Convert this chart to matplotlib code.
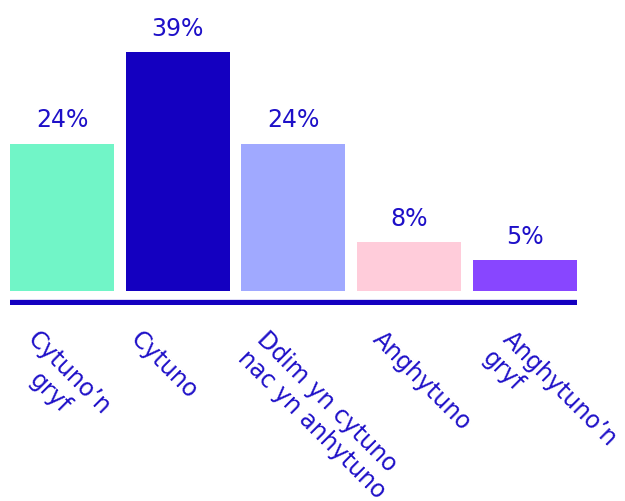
#Welsh agreement survey - bar chart of responses

import numpy as np
import matplotlib.pyplot as plt

categories = ["Cytuno’n\ngryf", "Cytuno", "Ddim yn cytuno\nnac yn anhytuno", "Anghytuno", "Anghytuno’n\ngryf"]
values = [24, 39, 24, 8, 5]
value_labels = ["24%", "39%", "24%", "8%", "5%"]
colors = ["#71F5C7", "#1400C0", "#A0A9FF", "#FFCCDA", "#8846FF"]

text_color = "#1E10C8"
plt.rcParams['font.family'] = ['DejaVu Sans']

fig = plt.figure(figsize=(6.25, 5.02), dpi=100)
ax = fig.add_axes([0.016, 0.3904, 0.907, 0.6096])

x = np.arange(len(values))
ax.bar(x, values, width=0.9, color=colors)

for xi, v, lab in zip(x, values, value_labels):
    ax.annotate(lab, (xi, v), xytext=(0, 9), textcoords='offset points',
                ha='center', va='bottom', fontsize=17, color=text_color)

# thick baseline sits a bit under the bars
ax.axhline(-1.8, xmin=0, xmax=1, color="#1400C0", linewidth=3.8)

ax.set_xlim(-0.45, 4.45)
ax.set_ylim(-2.28, 47.65)

# two-line labels start a little further right than single-line ones
shift = np.array([-0.19, -0.30, -0.21, -0.21, -0.09])
ax.set_xticks(x + shift, categories)
ax.tick_params(axis='x', length=0, pad=15, labelsize=17, labelcolor=text_color)
for t, ma in zip(ax.get_xticklabels(), ['center', 'left', 'left', 'left', 'left']):
    t.set_rotation(-45)
    t.set_rotation_mode('anchor')
    t.set_ha('left')
    t.set_va('top')
    t.set_multialignment(ma)
    t.set_linespacing(1.2)

ax.set_yticks([])
for s in ax.spines.values():
    s.set_visible(False)

plt.savefig('out.png', dpi=100)
